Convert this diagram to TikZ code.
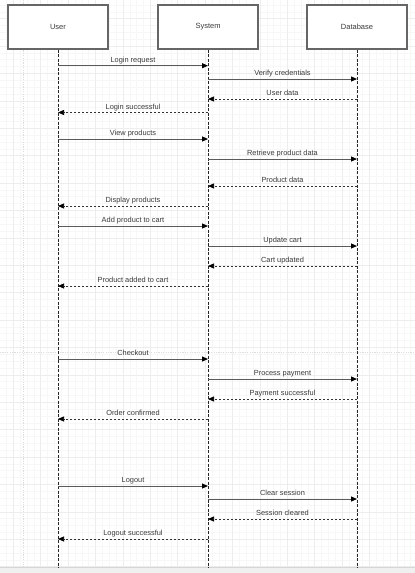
\documentclass[tikz,border=0pt]{standalone}
\usepackage{fontspec}
\setmainfont{Liberation Sans}
\usetikzlibrary{arrows.meta}

\definecolor{gridminor}{HTML}{F7F7F7}
\definecolor{gridmajor}{HTML}{EDEDED}
\definecolor{pagebrk}{HTML}{DDDDDD}
\definecolor{ink}{HTML}{3A3A3A}
\definecolor{boxline}{HTML}{666666}
\definecolor{wire}{HTML}{5A5A5A}

\tikzset{
  actor/.style={draw=boxline, line width=1.3pt, fill=white,
    minimum width=100pt, minimum height=44pt, inner sep=0pt,
    font=\fontsize{7.5}{9}\selectfont, text=ink},
  lifeline/.style={draw=black!85, line width=0.7pt, dash pattern=on 3pt off 1.5pt},
  call/.style={draw=wire, line width=1pt,
    -{Triangle[length=6pt,width=5pt,color=black]}},
  reply/.style={draw=black!80, line width=0.7pt, dash pattern=on 2pt off 2pt,
    -{Triangle[length=6pt,width=5pt,color=black]}},
  lbl/.style={above=1pt, inner sep=0pt, text height=0.72em, text depth=0.2em,
    font=\fontsize{7.4}{9}\selectfont, text=ink},
}

\begin{document}
\begin{tikzpicture}[x=1pt,y=-1pt]
  \useasboundingbox (0,0) rectangle (415,573);
  \fill[white] (0,0) rectangle (415,573);

  % background grid
  \begin{scope}
    \clip (0,0) rectangle (415,567.5);
    \foreach \k in {-54,...,7}
      \draw[gridminor, line width=0.5pt] (369.5+6.85*\k,0) -- ++(0,568);
    \foreach \k in {-47,...,36}
      \draw[gridminor, line width=0.5pt] (0,320+6.85*\k) -- ++(415,0);
    \foreach \k in {-14,...,2}
      \draw[gridmajor, line width=0.6pt] (369.5+27.4*\k,0) -- ++(0,568);
    \foreach \k in {-12,...,9}
      \draw[gridmajor, line width=0.6pt] (0,320+27.4*\k) -- ++(415,0);
    \draw[pagebrk, line width=0.8pt, dash pattern=on 1.2pt off 1.2pt] (23,0) -- (23,568);
    \draw[pagebrk, line width=0.8pt, dash pattern=on 1.2pt off 1.2pt] (0,352) -- (415,352);
  \end{scope}

  % status bar along the bottom edge
  \fill[black!6] (0,567.5) rectangle (415,573);
  \draw[black!16, line width=0.8pt] (0,567.5) -- (415,567.5);

  % participants
  \node[actor] (user) at (58,27) {User};
  \node[actor] (sys)  at (208,27) {System};
  \node[actor] (db)   at (357,27) {Database};

  \coordinate (userEnd) at (58,567.5);
  \coordinate (sysEnd)  at (208,567.5);
  \coordinate (dbEnd)   at (357,567.5);

  \draw[lifeline] (user) -- (userEnd);
  \draw[lifeline] (sys) -- (sysEnd);
  \draw[lifeline] (db) -- (dbEnd);

  % messages
  \foreach \i/\y/\src/\dst/\kind/\txt in {
      1/65.7/user/sys/call/Login request,
      2/79/sys/db/call/Verify credentials,
      3/99/db/sys/reply/User data,
      4/112.5/sys/user/reply/Login successful,
      5/139/user/sys/call/View products,
      6/159/sys/db/call/Retrieve product data,
      7/186/db/sys/reply/Product data,
      8/206/sys/user/reply/Display products,
      9/226/user/sys/call/Add product to cart,
      10/246/sys/db/call/Update cart,
      11/266/db/sys/reply/Cart updated,
      12/286/sys/user/reply/Product added to cart,
      13/359/user/sys/call/Checkout,
      14/379/sys/db/call/Process payment,
      15/399/db/sys/reply/Payment successful,
      16/419/sys/user/reply/Order confirmed,
      17/486/user/sys/call/Logout,
      18/499/sys/db/call/Clear session,
      19/519/db/sys/reply/Session cleared,
      20/539/sys/user/reply/Logout successful}
  {
    \coordinate (m\i a) at (\src |- 0,\y);
    \coordinate (m\i b) at (\dst |- 0,\y);
    \draw[\kind] (m\i a) -- node[lbl] {\txt} (m\i b);
  }
\end{tikzpicture}
\end{document}
